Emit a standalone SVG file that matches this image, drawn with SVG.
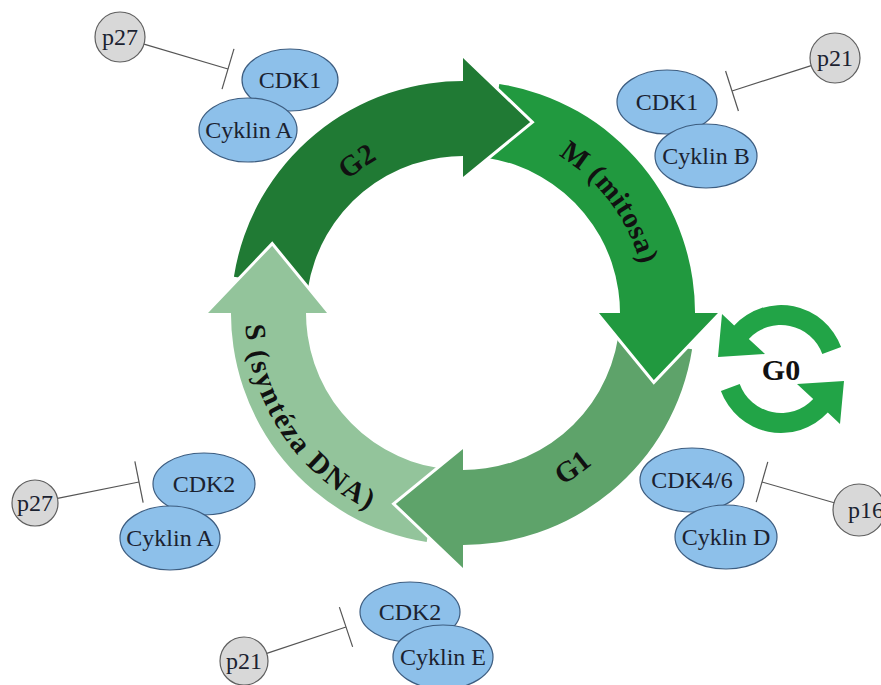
<svg xmlns="http://www.w3.org/2000/svg" width="881" height="685" viewBox="0 0 881 685">
<defs>
<style>
.cdk{fill:#8dc0ea;stroke:#3d5d80;stroke-width:1.2}
.pc{fill:#d8d8d8;stroke:#5f5f5f;stroke-width:1.2}
.lbl{font-family:"Liberation Serif","Times New Roman",serif;font-size:24px;fill:#1b2230;text-anchor:middle}
.ph{font-family:"Liberation Serif","Times New Roman",serif;font-weight:bold;font-size:29px;fill:#111}
.inh{stroke:#555;stroke-width:1.2;fill:none;marker-end:url(#bar)}
.edge{fill:none;stroke:#fff;stroke-width:3;stroke-linejoin:miter}
.g0{fill:#22a447}
</style>
<marker id="bar" markerUnits="userSpaceOnUse" markerWidth="4" markerHeight="46" refX="0" refY="0" viewBox="-2 -23 4 46" orient="auto">
<path d="M0,-21 L0,21" stroke="#555" stroke-width="1.2"/>
</marker>
<path id="tpG2" d="M 297.6,252.8 A 176 176 0 0 1 463,137"/>
<path id="tpM" d="M 488.6,130.8 A 184 184 0 0 1 645.2,338.6"/>
<path id="tpG1" d="M 445.7,511.2 A 199 199 0 0 0 655.7,362.5"/>
<path id="tpS" d="M 248.3,275.1 A 218 218 0 0 0 417.7,526.2"/>
</defs>
<rect width="881" height="685" fill="#fff"/>

<g id="cycle">
<g id="bodies">
<path id="bodyG2" fill="#207a34" d="M 233.9,276.7 A 232 232 0 0 1 471.1,81.1 L 468.5,156.1 A 157 157 0 0 0 307.9,288.4 Z"/>
<path id="bodyM" fill="#21993f" d="M 499.3,83.9 A 232 232 0 0 1 694.9,321.1 L 619.9,318.5 A 157 157 0 0 0 487.6,157.9 Z"/>
<path id="bodyG1" fill="#5ea36a" d="M 692.1,349.3 A 232 232 0 0 1 454.9,544.9 L 457.5,469.9 A 157 157 0 0 0 618.1,337.6 Z"/>
<path id="bodyS" fill="#93c49b" d="M 426.7,542.1 A 232 232 0 0 1 231.1,304.9 L 306.1,307.5 A 157 157 0 0 0 438.4,468.1 Z"/>
</g>
<g id="heads">
<path fill="#207a34" d="M 463,56 L 532.4,122.2 L 463,179 Z"/>
<polyline class="edge" points="463,56 532.4,122.2 463,179"/>
<path fill="#21993f" d="M 720,313 L 653.8,382.4 L 597,313 Z"/>
<polyline class="edge" points="720,313 653.8,382.4 597,313"/>
<path fill="#5ea36a" d="M 463,570 L 393.6,503.8 L 463,447 Z"/>
<polyline class="edge" points="463,570 393.6,503.8 463,447"/>
<path fill="#93c49b" d="M 206,313 L 272.2,243.6 L 329,313 Z"/>
<polyline class="edge" points="206,313 272.2,243.6 329,313"/>
</g>
<text class="ph"><textPath href="#tpG2" startOffset="50%" text-anchor="middle">G2</textPath></text>
<text class="ph"><textPath href="#tpM" startOffset="50%" text-anchor="middle" letter-spacing="0.4">M (mitosa)</textPath></text>
<text class="ph"><textPath href="#tpG1" startOffset="50%" text-anchor="middle">G1</textPath></text>
<text class="ph"><textPath href="#tpS" startOffset="50%" text-anchor="middle" letter-spacing="2">S (syntéza DNA)</textPath></text>
</g>

<g id="G0">
<path class="g0" d="M 841.1,347.1 A 64 64 0 0 0 734.2,325.4 L 722,314 L 718,357 L 765,354 L 748.8,339 A 44 44 0 0 1 822.3,354 Z"/>
<path class="g0" d="M 720.9,390.9 A 64 64 0 0 0 827.8,412.6 L 840,424 L 844,381 L 797,384 L 813.2,399 A 44 44 0 0 1 739.7,384 Z"/>
<text x="781" y="380" text-anchor="middle" style="font-family:'Liberation Serif','Times New Roman',serif;font-weight:bold;font-size:30px;fill:#111">G0</text>
</g>

<g id="connectors">
<line class="inh" x1="144" y1="44.1" x2="228" y2="69"/>
<line class="inh" x1="811.2" y1="65.6" x2="732" y2="91"/>
<line class="inh" x1="57.5" y1="498.4" x2="139" y2="482"/>
<line class="inh" x1="266.8" y1="653.4" x2="346" y2="627"/>
<line class="inh" x1="835" y1="503" x2="762" y2="482"/>
</g>

<g id="complexG2">
<g id="cdk1a"><ellipse class="cdk" cx="290" cy="80" rx="48" ry="31"/><text class="lbl" x="290" y="88">CDK1</text></g>
<g id="cyklinA1"><ellipse class="cdk" cx="248" cy="130" rx="49" ry="32"/><text class="lbl" x="249" y="138">Cyklin A</text></g>
</g>
<g id="p27top"><circle class="pc" cx="120" cy="37" r="25"/><text class="lbl" x="120" y="45">p27</text></g>

<g id="complexM">
<g id="cdk1b"><ellipse class="cdk" cx="667" cy="102" rx="50" ry="32"/><text class="lbl" x="667" y="110">CDK1</text></g>
<g id="cyklinB"><ellipse class="cdk" cx="706" cy="156" rx="51" ry="32"/><text class="lbl" x="706" y="164">Cyklin B</text></g>
</g>
<g id="p21top"><circle class="pc" cx="835" cy="58" r="25"/><text class="lbl" x="835" y="66">p21</text></g>

<g id="complexS">
<g id="cdk2a"><ellipse class="cdk" cx="204" cy="484" rx="51" ry="31"/><text class="lbl" x="204" y="492">CDK2</text></g>
<g id="cyklinA2"><ellipse class="cdk" cx="170" cy="538" rx="50" ry="32"/><text class="lbl" x="170" y="546">Cyklin A</text></g>
</g>
<g id="p27bottom"><circle class="pc" cx="35" cy="503" r="23"/><text class="lbl" x="35" y="511">p27</text></g>

<g id="complexG1S">
<g id="cdk2b"><ellipse class="cdk" cx="410" cy="612" rx="50" ry="30"/><text class="lbl" x="410" y="620">CDK2</text></g>
<g id="cyklinE"><ellipse class="cdk" cx="443" cy="657" rx="50" ry="32"/><text class="lbl" x="443" y="665">Cyklin E</text></g>
</g>
<g id="p21bottom"><circle class="pc" cx="244" cy="661" r="24"/><text class="lbl" x="244" y="669">p21</text></g>

<g id="complexG1">
<g id="cdk46"><ellipse class="cdk" cx="692" cy="480" rx="52" ry="32"/><text class="lbl" x="692" y="488">CDK4/6</text></g>
<g id="cyklinD"><ellipse class="cdk" cx="726" cy="537" rx="51" ry="32"/><text class="lbl" x="726" y="545">Cyklin D</text></g>
</g>
<g id="p16"><circle class="pc" cx="859" cy="510" r="26"/><text class="lbl" x="866" y="518">p16</text></g>
</svg>
